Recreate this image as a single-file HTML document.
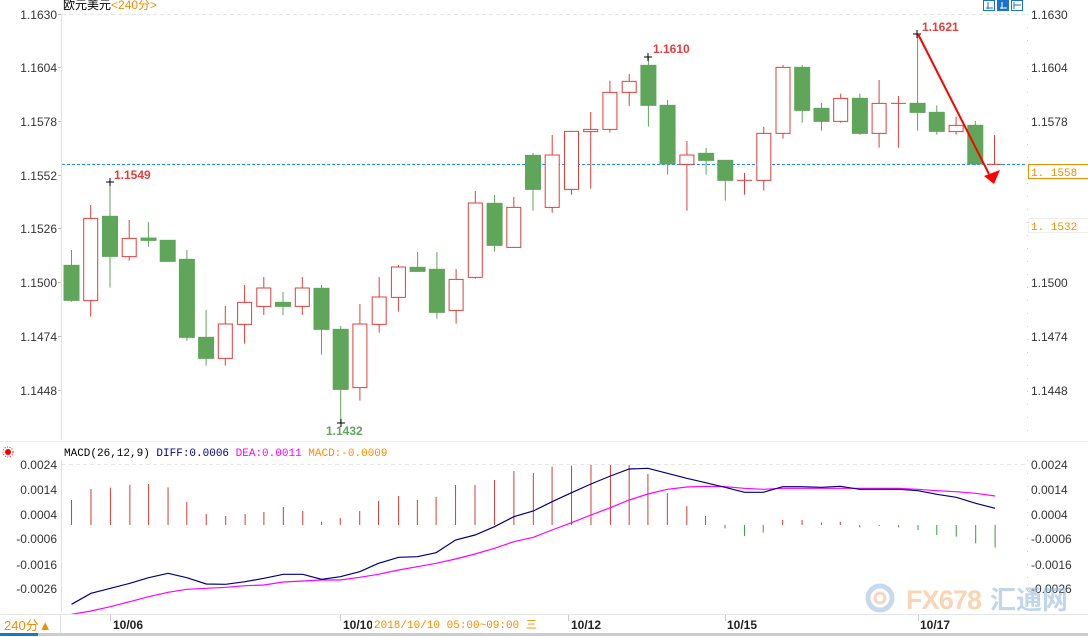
<!DOCTYPE html>
<html><head><meta charset="utf-8"><style>
html,body{margin:0;padding:0;background:#fff;}
svg{display:block;}
.ax{font-family:"Liberation Sans",sans-serif;font-size:12px;fill:#333;}
.mono{font-family:"Liberation Mono","Noto Sans CJK SC",monospace;font-size:11px;}
</style></head><body>
<svg width="1088" height="637" viewBox="0 0 1088 637" xmlns="http://www.w3.org/2000/svg">
<rect width="1088" height="637" fill="#fff"/>
<text x="63" y="9" font-family="Liberation Sans,'Noto Sans CJK SC',sans-serif" font-size="12" fill="#000">欧元美元<tspan fill="#f08c00">&lt;240分&gt;</tspan></text>
<g stroke="#1a74c9" fill="#fff" stroke-width="1">
<rect x="983.5" y="0.5" width="11" height="10"/><rect x="997.5" y="0.5" width="11" height="10" fill="#1a74c9"/><rect x="1011.5" y="0.5" width="11" height="10"/>
</g>
<g stroke="#1a74c9" stroke-width="1"><path d="M988 2v7M986 8h7M1014 2v7M1014 5h7"/><path d="M1002 2v7M1000 8h7" stroke="#fff"/></g>
<line x1="62" y1="14.5" x2="1026" y2="14.5" stroke="#e6e6e6" stroke-dasharray="4,3"/>
<line x1="61.5" y1="14" x2="61.5" y2="440" stroke="#dde3ea"/>
<line x1="1027.5" y1="14" x2="1027.5" y2="440" stroke="#ccc" stroke-dasharray="1,12"/>
<g class="ax" text-anchor="end">
<text x="57" y="19">1.1630</text><text x="57" y="72">1.1604</text><text x="57" y="126">1.1578</text><text x="57" y="180">1.1552</text><text x="57" y="233">1.1526</text><text x="57" y="287">1.1500</text><text x="57" y="341">1.1474</text><text x="57" y="395">1.1448</text>
</g>
<g class="ax">
<text x="1031" y="19">1.1630</text><text x="1031" y="72">1.1604</text><text x="1031" y="126">1.1578</text><text x="1031" y="287">1.1500</text><text x="1031" y="341">1.1474</text><text x="1031" y="395">1.1448</text>
</g>
<g stroke="#bbb"><path d="M58 14.5h3M58 67.5h3M58 121.5h3M58 175.5h3M58 228.5h3M58 282.5h3M58 336.5h3M58 390.5h3"/></g>
<line x1="62" y1="164.5" x2="1025" y2="164.5" stroke="#1e88ff" stroke-dasharray="3,2"/>
<rect x="1028.5" y="164.5" width="60" height="14" fill="#fff" stroke="#f08c00"/>
<text x="1031" y="176" class="mono" font-size="12" fill="#f08c00">1. 1558</text>
<rect x="1028.5" y="218.5" width="60" height="14" fill="#fff" stroke="#eee"/>
<text x="1031" y="230" class="mono" font-size="12" fill="#f08c00">1. 1532</text>
<g transform="scale(1,0.33333)">
<g stroke="#5fa55a" fill="#5fa55a">
<line x1="71.5" y1="750" x2="71.5" y2="905" vector-effect="non-scaling-stroke"/><rect x="64" y="795" width="15" height="107"/>
<line x1="110" y1="545" x2="110" y2="863" vector-effect="non-scaling-stroke"/><rect x="102.5" y="648" width="15" height="122"/>
<line x1="148.4" y1="666" x2="148.4" y2="740" vector-effect="non-scaling-stroke"/><rect x="141" y="713" width="15" height="9"/>
<rect x="160.2" y="720" width="15" height="65"/>
<line x1="186.9" y1="750" x2="186.9" y2="1022" vector-effect="non-scaling-stroke"/><rect x="179.4" y="777" width="15" height="236"/>
<line x1="206.1" y1="930" x2="206.1" y2="1097" vector-effect="non-scaling-stroke"/><rect x="198.6" y="1011" width="15" height="65"/>
<line x1="283" y1="876" x2="283" y2="945" vector-effect="non-scaling-stroke"/><rect x="275.5" y="906" width="15" height="14"/>
<line x1="321.5" y1="855" x2="321.5" y2="1064" vector-effect="non-scaling-stroke"/><rect x="314" y="864" width="15" height="125"/>
<line x1="340.7" y1="978" x2="340.7" y2="1270" vector-effect="non-scaling-stroke"/><rect x="333.2" y="987" width="15" height="182"/>
<line x1="417.6" y1="756" x2="417.6" y2="815" vector-effect="non-scaling-stroke"/><rect x="410.1" y="801" width="15" height="14"/>
<line x1="436.9" y1="756" x2="436.9" y2="956" vector-effect="non-scaling-stroke"/><rect x="429.4" y="807" width="15" height="131"/>
<line x1="494.6" y1="585" x2="494.6" y2="755" vector-effect="non-scaling-stroke"/><rect x="487.1" y="609" width="15" height="128"/>
<line x1="533" y1="459" x2="533" y2="632" vector-effect="non-scaling-stroke"/><rect x="525.5" y="465" width="15" height="104"/>
<line x1="648.4" y1="172" x2="648.4" y2="380" vector-effect="non-scaling-stroke"/><rect x="640.9" y="195" width="15" height="122"/>
<line x1="667.6" y1="300" x2="667.6" y2="524" vector-effect="non-scaling-stroke"/><rect x="660.1" y="315" width="15" height="178"/>
<line x1="706.1" y1="444" x2="706.1" y2="524" vector-effect="non-scaling-stroke"/><rect x="698.6" y="459" width="15" height="23"/>
<line x1="725.3" y1="480" x2="725.3" y2="602" vector-effect="non-scaling-stroke"/><rect x="717.8" y="480" width="15" height="62"/>
<line x1="802.2" y1="195" x2="802.2" y2="368" vector-effect="non-scaling-stroke"/><rect x="794.7" y="201" width="15" height="131"/>
<line x1="821.5" y1="309" x2="821.5" y2="392" vector-effect="non-scaling-stroke"/><rect x="814" y="324" width="15" height="41"/>
<line x1="859.9" y1="281" x2="859.9" y2="404" vector-effect="non-scaling-stroke"/><rect x="852.4" y="294" width="15" height="107"/>
<line x1="917.6" y1="100" x2="917.6" y2="392" vector-effect="non-scaling-stroke"/><rect x="910.1" y="309" width="15" height="29"/>
<line x1="936.8" y1="316" x2="936.8" y2="404" vector-effect="non-scaling-stroke"/><rect x="929.3" y="336" width="15" height="59"/>
<line x1="975.3" y1="363" x2="975.3" y2="496" vector-effect="non-scaling-stroke"/><rect x="967.8" y="375" width="15" height="118"/>
</g>
<g stroke="#df3f3b" fill="#fff">
<line x1="90.7" y1="615" x2="90.7" y2="950" vector-effect="non-scaling-stroke"/><rect x="83.7" y="655" width="14" height="247" vector-effect="non-scaling-stroke"/>
<line x1="129.2" y1="660" x2="129.2" y2="782" vector-effect="non-scaling-stroke"/><rect x="122.2" y="715" width="14" height="55" vector-effect="non-scaling-stroke"/>
<line x1="225.3" y1="918" x2="225.3" y2="1097" vector-effect="non-scaling-stroke"/><rect x="218.3" y="972" width="14" height="103" vector-effect="non-scaling-stroke"/>
<line x1="244.6" y1="855" x2="244.6" y2="1031" vector-effect="non-scaling-stroke"/><rect x="237.6" y="907" width="14" height="66" vector-effect="non-scaling-stroke"/>
<line x1="263.8" y1="831" x2="263.8" y2="945" vector-effect="non-scaling-stroke"/><rect x="256.8" y="864" width="14" height="55" vector-effect="non-scaling-stroke"/>
<line x1="302.3" y1="831" x2="302.3" y2="945" vector-effect="non-scaling-stroke"/><rect x="295.3" y="864" width="14" height="55" vector-effect="non-scaling-stroke"/>
<line x1="359.9" y1="912" x2="359.9" y2="1202" vector-effect="non-scaling-stroke"/><rect x="352.9" y="972" width="14" height="191" vector-effect="non-scaling-stroke"/>
<line x1="379.2" y1="831" x2="379.2" y2="998" vector-effect="non-scaling-stroke"/><rect x="372.2" y="891" width="14" height="82" vector-effect="non-scaling-stroke"/>
<line x1="398.4" y1="795" x2="398.4" y2="935" vector-effect="non-scaling-stroke"/><rect x="391.4" y="801" width="14" height="91" vector-effect="non-scaling-stroke"/>
<line x1="456.1" y1="807" x2="456.1" y2="971" vector-effect="non-scaling-stroke"/><rect x="449.1" y="838" width="14" height="93" vector-effect="non-scaling-stroke"/>
<line x1="475.3" y1="573" x2="475.3" y2="836" vector-effect="non-scaling-stroke"/><rect x="468.3" y="609" width="14" height="223" vector-effect="non-scaling-stroke"/>
<line x1="513.8" y1="591" x2="513.8" y2="742" vector-effect="non-scaling-stroke"/><rect x="506.8" y="622" width="14" height="120" vector-effect="non-scaling-stroke"/>
<line x1="552.2" y1="405" x2="552.2" y2="638" vector-effect="non-scaling-stroke"/><rect x="545.2" y="465" width="14" height="157" vector-effect="non-scaling-stroke"/>
<line x1="571.5" y1="394" x2="571.5" y2="584" vector-effect="non-scaling-stroke"/><rect x="564.5" y="394" width="14" height="174" vector-effect="non-scaling-stroke"/>
<line x1="590.7" y1="336" x2="590.7" y2="566" vector-effect="non-scaling-stroke"/><rect x="583.7" y="388" width="14" height="7" vector-effect="non-scaling-stroke"/>
<line x1="609.9" y1="242" x2="609.9" y2="398" vector-effect="non-scaling-stroke"/><rect x="602.9" y="277" width="14" height="111" vector-effect="non-scaling-stroke"/>
<line x1="629.2" y1="222" x2="629.2" y2="318" vector-effect="non-scaling-stroke"/><rect x="622.2" y="244" width="14" height="33" vector-effect="non-scaling-stroke"/>
<line x1="686.9" y1="423" x2="686.9" y2="632" vector-effect="non-scaling-stroke"/><rect x="679.9" y="465" width="14" height="28" vector-effect="non-scaling-stroke"/>
<line x1="744.5" y1="519" x2="744.5" y2="584" vector-effect="non-scaling-stroke"/><line x1="737" y1="541" x2="752" y2="541" vector-effect="non-scaling-stroke"/>
<line x1="763.8" y1="381" x2="763.8" y2="572" vector-effect="non-scaling-stroke"/><rect x="756.8" y="400" width="14" height="141" vector-effect="non-scaling-stroke"/>
<line x1="783" y1="195" x2="783" y2="416" vector-effect="non-scaling-stroke"/><rect x="776" y="202" width="14" height="198" vector-effect="non-scaling-stroke"/>
<line x1="840.7" y1="281" x2="840.7" y2="368" vector-effect="non-scaling-stroke"/><rect x="833.7" y="295" width="14" height="69" vector-effect="non-scaling-stroke"/>
<line x1="879.1" y1="240" x2="879.1" y2="443" vector-effect="non-scaling-stroke"/><rect x="872.1" y="310" width="14" height="90" vector-effect="non-scaling-stroke"/>
<line x1="898.4" y1="288" x2="898.4" y2="443" vector-effect="non-scaling-stroke"/><line x1="891" y1="310" x2="906" y2="310" vector-effect="non-scaling-stroke"/>
<line x1="956.1" y1="350" x2="956.1" y2="404" vector-effect="non-scaling-stroke"/><rect x="949.1" y="376" width="14" height="19" vector-effect="non-scaling-stroke"/>
<line x1="994.5" y1="405" x2="994.5" y2="493" vector-effect="non-scaling-stroke"/><line x1="987" y1="493" x2="1002" y2="493" vector-effect="non-scaling-stroke"/>
</g>
</g>
<g stroke="#000"><path d="M106 182h8M110 178v8M337 423h8M341 419v8M644 57h8M648 53v8M913 34h8M917 30v8"/></g>
<g font-family="Liberation Sans,sans-serif" font-size="12" font-weight="bold">
<text x="114" y="179" fill="#e0403c">1.1549</text>
<text x="326" y="435" fill="#5fa55a">1.1432</text>
<text x="653" y="53" fill="#e0403c">1.1610</text>
<text x="922" y="31" fill="#e0403c">1.1621</text>
</g>
<line x1="918" y1="34" x2="989" y2="174" stroke="#f00" stroke-width="2"/>
<polygon points="984,176 1000,170 994,184" fill="#f00"/>
<line x1="0" y1="441.5" x2="1088" y2="441.5" stroke="#eee"/>
<circle cx="8" cy="452" r="3" fill="#e00"/><circle cx="8" cy="452" r="5" fill="none" stroke="#e00" stroke-dasharray="1,1.5"/>
<text x="64" y="456" class="mono" fill="#000">MACD(26,12,9) <tspan fill="#000099">DIFF:0.0006</tspan> <tspan fill="#ff00ff">DEA:0.0011</tspan> <tspan fill="#ff8c00">MACD:-0.0009</tspan></text>
<line x1="62" y1="464.5" x2="1026" y2="464.5" stroke="#e6e6e6" stroke-dasharray="4,3"/>
<line x1="61.5" y1="460" x2="61.5" y2="612" stroke="#dde3ea"/>
<line x1="1027.5" y1="460" x2="1027.5" y2="612" stroke="#ccc" stroke-dasharray="1,12"/>
<g class="ax" text-anchor="end">
<text x="57" y="469">0.0024</text><text x="57" y="494">0.0014</text><text x="57" y="519">0.0004</text><text x="57" y="543">-0.0006</text><text x="57" y="569">-0.0016</text><text x="57" y="593">-0.0026</text>
</g>
<g class="ax">
<text x="1031" y="469">0.0024</text><text x="1031" y="494">0.0014</text><text x="1031" y="519">0.0004</text><text x="1031" y="543">-0.0006</text><text x="1031" y="569">-0.0016</text><text x="1031" y="593">-0.0026</text>
</g>
<g transform="translate(0,440) scale(0.69444,0.33333)">
<g stroke="#d43c36">
<path vector-effect="non-scaling-stroke" d="M103 255V180M131 255V147M159 255V143M187 255V135M214 255V132M242 255V142M269 255V186M297 255V222M325 255V228M353 255V222M380 255V216M408 255V201M436 255V213M463 255V245M490 255V234M518 255V213M545 255V183M574 255V168M601 255V180M628 255V171M656 255V135M684 255V135M712 255V120M740 255V93M768 255V99M795 255V80M823 255V77M851 255V75M879 255V75M906 255V75M933 255V102M961 255V159M989 255V198M1016 255V228M1127 255V240M1155 255V240M1183 255V248M1210 255V245"/>
</g>
<g stroke="#3c9b3c">
<path vector-effect="non-scaling-stroke" d="M1044 255V265M1072 255V288M1099 255V278M1238 255V262M1266 255V258M1294 255V262M1322 255V270M1349 255V285M1377 255V290M1405 255V310M1433 255V323"/>
</g>
<polyline vector-effect="non-scaling-stroke" fill="none" stroke="#ff00ff" stroke-width="1.2" points="103,523 131,513 159,500 187,485 214,470 242,457 269,448 297,445 325,442 353,437 380,435 408,426 436,423 463,420 490,420 518,412 545,403 574,390 601,380 628,370 656,357 684,342 712,325 740,305 768,292 795,270 823,248 851,225 879,203 906,180 933,162 961,148 989,141 1016,139 1044,140 1072,145 1099,148 1127,145 1155,145 1183,145 1210,145 1238,145 1266,145 1294,145 1322,148 1349,152 1377,155 1405,160 1433,168"/>
<polyline vector-effect="non-scaling-stroke" fill="none" stroke="#000080" stroke-width="1.2" points="103,493 131,460 159,445 187,430 214,413 242,400 269,413 297,432 325,433 353,425 380,415 408,403 436,403 463,418 490,410 518,395 545,370 574,352 601,350 628,338 656,300 684,285 712,260 740,230 768,213 795,185 823,158 851,132 879,108 906,87 933,85 961,100 989,115 1016,128 1044,142 1072,157 1099,157 1127,140 1155,140 1183,142 1210,139 1238,148 1266,148 1294,148 1322,152 1349,163 1377,172 1405,190 1433,205"/>
</g>
<g opacity="0.55">
<circle cx="880" cy="598" r="12" fill="none" stroke="#9bbde0" stroke-width="5"/>
<circle cx="880" cy="598" r="5" fill="none" stroke="#f3b48a" stroke-width="3"/>
<text x="906" y="609" font-family="Liberation Sans,sans-serif" font-weight="bold" font-size="27" textLength="76" fill="#f6b27a">FX678</text>
<text x="990" y="609" font-family="'Noto Sans CJK SC',sans-serif" font-weight="bold" font-size="26" fill="#8fb6dc">汇通网</text>
</g>
<line x1="0" y1="614.5" x2="1088" y2="614.5" stroke="#e3e3e3"/>
<line x1="60.5" y1="614" x2="60.5" y2="634" stroke="#ddd"/>
<line x1="0" y1="634.5" x2="1088" y2="634.5" stroke="#ccc" stroke-width="3"/>
<line x1="0" y1="634.5" x2="38" y2="634.5" stroke="#1a74c9" stroke-width="3"/>
<text x="4" y="630" font-family="Liberation Sans,'Noto Sans CJK SC',sans-serif" font-size="13" fill="#f08c00">240分▲</text>
<g stroke="#ccc"><path d="M110.5 615v6M340.5 615v6M568.5 615v6M725.5 615v6M918.5 615v6"/></g>
<g font-family="Liberation Sans,sans-serif" font-size="12" font-weight="bold" fill="#222">
<text x="113" y="629">10/06</text><text x="343" y="629">10/10</text><text x="571" y="629">10/12</text><text x="727" y="629">10/15</text><text x="920" y="629">10/17</text>
</g>
<rect x="372" y="615" width="184" height="18" fill="#fff"/>
<text x="374" y="628" class="mono" font-size="12" fill="#f08c00">2018/10/10 05:00~09:00 三</text>
</svg>
</body></html>
